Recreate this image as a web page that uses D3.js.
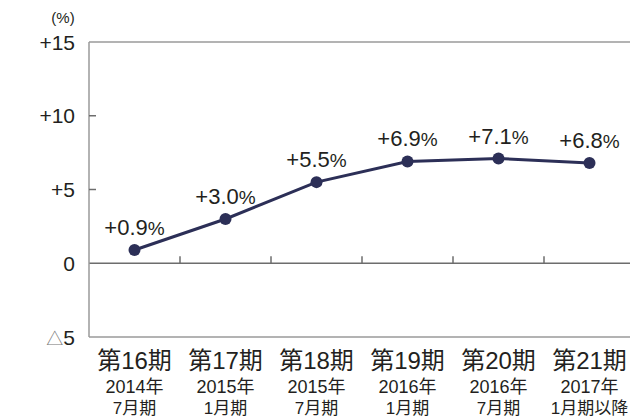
<!DOCTYPE html>
<html>
<head>
<meta charset="utf-8">
<script src="https://cdn.jsdelivr.net/npm/d3@7"></script>
<style>
  body { margin: 0; background: #fff; }
  text { font-family: "Liberation Sans", "Noto Sans CJK JP", sans-serif; fill: #231f20; }
</style>
</head>
<body>
<svg width="630" height="417"></svg>
<script>
const periods = ['第16期', '第17期', '第18期', '第19期', '第20期', '第21期']
const years = ['2014年', '2015年', '2015年', '2016年', '2016年', '2017年']
const months = ['7月期', '1月期', '7月期', '1月期', '7月期', '1月期以降']
const values = [0.9, 3.0, 5.5, 6.9, 7.1, 6.8]
const yTicks = [-5, 0, 5, 10, 15]
const yTickLabels = ['△5', '0', '+5', '+10', '+15']

const svg = d3.select('svg')
const plotLeft = 89, plotRight = 635, plotTop = 42, plotBottom = 337

const x = d3.scaleBand().domain(periods).range([plotLeft, plotRight])
const y = d3.scaleLinear().domain([-5, 15]).range([plotBottom, plotTop])

const axisColor = '#9a9a9a'
const tickColor = '#6d6d6d'

// frame: left, top, bottom, zero line
svg.append('line').attr('x1', plotLeft).attr('x2', 630).attr('y1', y(15)).attr('y2', y(15))
  .attr('stroke', axisColor).attr('stroke-width', 1.5)
svg.append('line').attr('x1', plotLeft).attr('x2', 630).attr('y1', y(-5)).attr('y2', y(-5))
  .attr('stroke', axisColor).attr('stroke-width', 1.5)
svg.append('line').attr('x1', plotLeft).attr('x2', 630).attr('y1', y(0)).attr('y2', y(0))
  .attr('stroke', tickColor).attr('stroke-width', 1.5)
svg.append('line').attr('x1', plotLeft).attr('x2', plotLeft).attr('y1', y(15)).attr('y2', y(-5))
  .attr('stroke', axisColor).attr('stroke-width', 1.5)

// inner y ticks
svg.selectAll('.ytick').data([5, 10]).enter().append('line')
  .attr('x1', plotLeft).attr('x2', plotLeft + 7)
  .attr('y1', d => y(d)).attr('y2', d => y(d))
  .attr('stroke', tickColor).attr('stroke-width', 1.5)

// category ticks on zero line
svg.selectAll('.xtick').data(periods.slice(1)).enter().append('line')
  .attr('x1', d => x(d)).attr('x2', d => x(d))
  .attr('y1', y(0) - 7).attr('y2', y(0))
  .attr('stroke', tickColor).attr('stroke-width', 1.5)

// y labels
svg.selectAll('.ylab').data(yTicks).enter().append('text')
  .attr('x', 75).attr('y', d => y(d)).attr('dy', '0.36em')
  .attr('text-anchor', 'end').attr('font-size', 21)
  .each(function (d, i) {
    const t = d3.select(this)
    const lab = yTickLabels[i]
    if (lab.startsWith('△')) {
      t.append('tspan').text('△').attr('font-size', 17).style('fill', '#777')
      t.append('tspan').text(lab.slice(1))
    } else {
      t.text(lab)
    }
  })

svg.append('text').attr('x', 63).attr('y', 23).attr('text-anchor', 'middle')
  .attr('font-size', 15).text('(%)')

// category labels
const cats = svg.selectAll('.cat').data(periods).enter().append('g')
  .attr('transform', d => `translate(${x(d) + x.bandwidth() / 2},0)`)
cats.append('text').attr('y', 369).attr('text-anchor', 'middle').attr('font-size', 24)
  .text(d => d)
cats.append('text').attr('y', 393).attr('text-anchor', 'middle').attr('font-size', 18)
  .text((d, i) => years[i])
cats.append('text').attr('y', 414).attr('text-anchor', 'middle').attr('font-size', 17)
  .text((d, i) => months[i])

// line
const cx = (d, i) => x(periods[i]) + x.bandwidth() / 2
svg.append('path').datum(values)
  .attr('d', d3.line().x(cx).y(d => y(d)))
  .attr('fill', 'none').attr('stroke', '#2c2f57').attr('stroke-width', 3)

svg.selectAll('.pt').data(values).enter().append('circle')
  .attr('cx', cx).attr('cy', d => y(d)).attr('r', 6)
  .attr('fill', '#2c2f57')

// value labels
svg.selectAll('.val').data(values).enter().append('text')
  .attr('x', cx).attr('y', d => y(d) - 15)
  .attr('text-anchor', 'middle').attr('font-size', 22)
  .each(function (d) {
    const t = d3.select(this)
    t.append('tspan').text('+' + d.toFixed(1))
    t.append('tspan').text('%').attr('font-size', 19)
  })
</script>
</body>
</html>
